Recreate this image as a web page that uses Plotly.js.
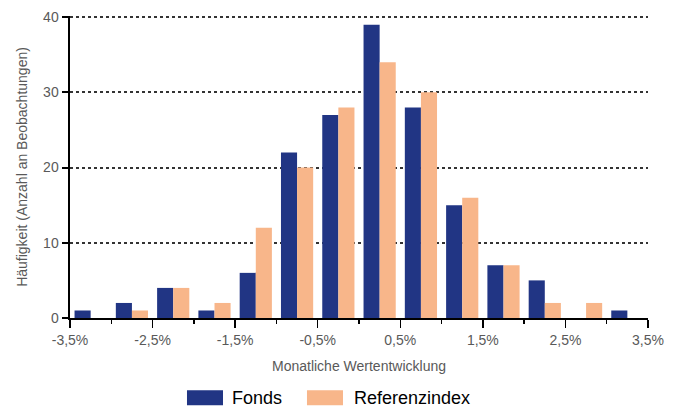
<!DOCTYPE html>
<html>
<head>
<meta charset="utf-8">
<script src="https://cdn.plot.ly/plotly-3.0.1.min.js"></script>
<style>html,body{margin:0;padding:0;background:#fff;}#chart{width:678px;height:410px;}</style>
</head>
<body>
<div id="chart"></div>
<script>
var binCenters = [-3.25, -2.75, -2.25, -1.75, -1.25, -0.75, -0.25, 0.25, 0.75, 1.25, 1.75, 2.25, 2.75, 3.25];
var fonds = [1, 2, 4, 1, 6, 22, 27, 39, 28, 15, 7, 5, 0, 1];
var referenz = [0, 1, 4, 2, 12, 20, 28, 34, 30, 16, 7, 2, 2, 0];
var xTickVals = [-3.5, -2.5, -1.5, -0.5, 0.5, 1.5, 2.5, 3.5];
var xTickText = ['-3,5%', '-2,5%', '-1,5%', '-0,5%', '0,5%', '1,5%', '2,5%', '3,5%'];
var seriesNames = ['Fonds', 'Referenzindex'];
var colors = ['#213584', '#F8B68A'];

var traces = [
  {type: 'bar', x: binCenters, y: fonds, name: seriesNames[0], marker: {color: colors[0], line: {width: 0}}, showlegend: false},
  {type: 'bar', x: binCenters, y: referenz, name: seriesNames[1], marker: {color: colors[1], line: {width: 0}}, showlegend: false}
];

var tickFont = {family: 'Liberation Sans, Arial, sans-serif', size: 14, color: '#595959'};

var layout = {
  width: 678, height: 410,
  margin: {l: 70, r: 30, t: 16, b: 92},
  paper_bgcolor: '#fff', plot_bgcolor: '#fff',
  barmode: 'group', bargap: 0.22, bargroupgap: 0,
  showlegend: false,
  xaxis: {
    range: [-3.5, 3.5], tickmode: 'array', tickvals: xTickVals, ticktext: xTickText,
    ticks: 'outside', ticklen: 8, tickwidth: 1.5, tickcolor: '#000',
    minor: {dtick: 0.5, tick0: -3.5, ticks: 'outside', ticklen: 4, tickwidth: 1.5, tickcolor: '#000', showgrid: false},
    showline: true, linecolor: '#000', linewidth: 2, showgrid: false, zeroline: false,
    tickfont: tickFont, automargin: false,
    title: {text: 'Monatliche Wertentwicklung', font: tickFont, standoff: 14}
  },
  yaxis: {
    range: [0, 40.15], tickmode: 'linear', dtick: 10, tick0: 0,
    ticks: 'outside', ticklen: 6, tickwidth: 2, tickcolor: '#000',
    showline: true, linecolor: '#000', linewidth: 2.5,
    showgrid: true, gridcolor: '#333', gridwidth: 2, griddash: 'dot',
    zeroline: false, tickfont: tickFont, automargin: false,
    title: {text: 'Häufigkeit (Anzahl an Beobachtungen)', font: tickFont, standoff: 12}
  },
  shapes: [
    {type: 'rect', xref: 'paper', yref: 'paper', x0: 0.2024, x1: 0.2647, y0: -0.239, y1: -0.289, fillcolor: colors[0], line: {width: 0}},
    {type: 'rect', xref: 'paper', yref: 'paper', x0: 0.410, x1: 0.4723, y0: -0.239, y1: -0.289, fillcolor: colors[1], line: {width: 0}}
  ],
  annotations: [
    {xref: 'paper', yref: 'paper', x: 0.2768, y: -0.2658, xanchor: 'left', yanchor: 'middle', text: seriesNames[0], showarrow: false, font: {family: 'Liberation Sans, Arial, sans-serif', size: 18, color: '#000'}},
    {xref: 'paper', yref: 'paper', x: 0.4879, y: -0.2658, xanchor: 'left', yanchor: 'middle', text: seriesNames[1], showarrow: false, font: {family: 'Liberation Sans, Arial, sans-serif', size: 18, color: '#000'}}
  ]
};

Plotly.newPlot('chart', traces, layout, {staticPlot: true, displayModeBar: false});
</script>
</body>
</html>
